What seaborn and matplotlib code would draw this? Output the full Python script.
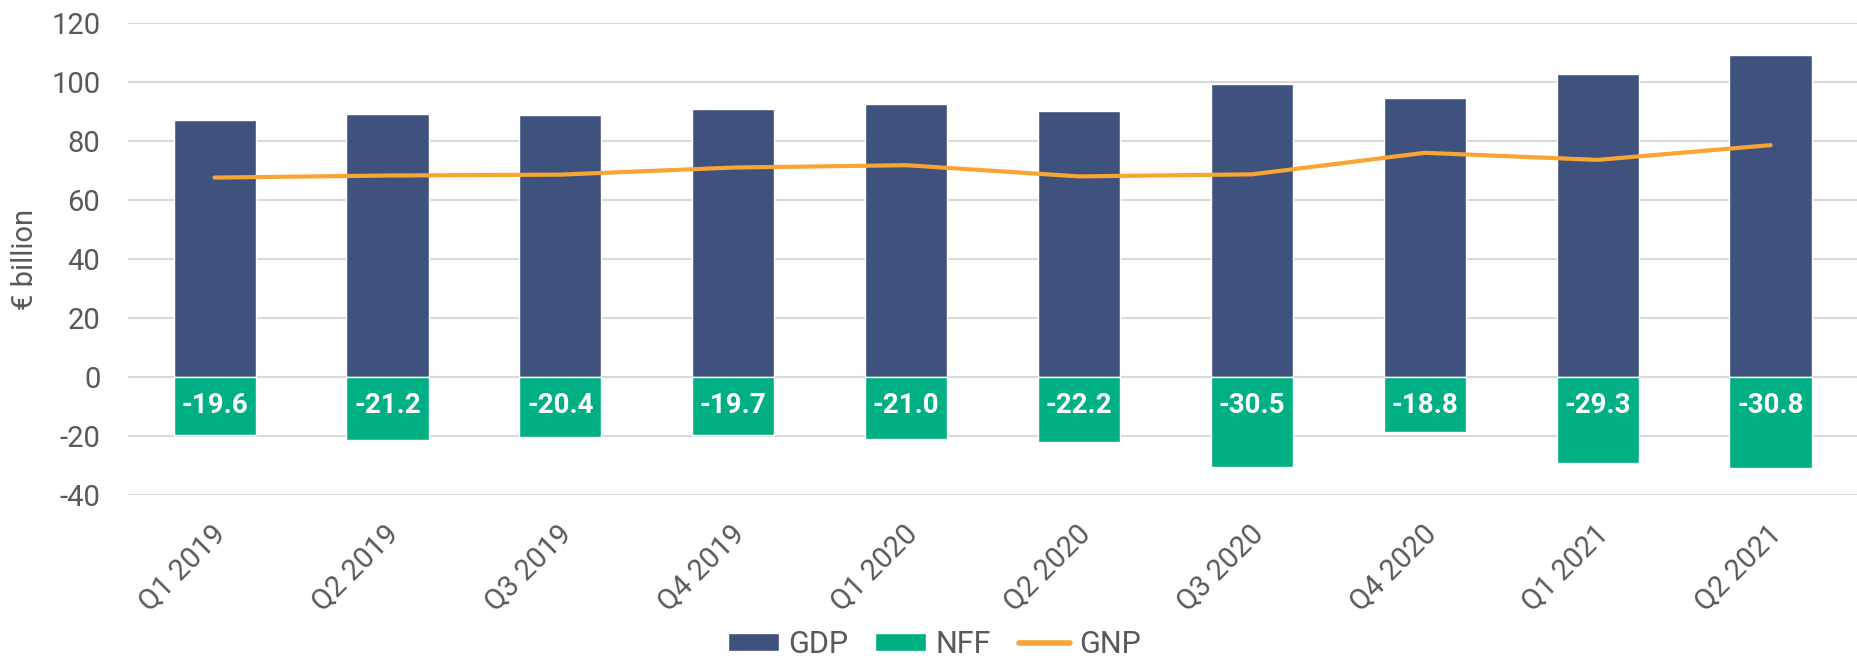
import numpy as np
import pandas as pd
import seaborn as sns
import matplotlib.pyplot as plt
from matplotlib.patches import Patch
from matplotlib.lines import Line2D
from matplotlib.transforms import ScaledTranslation

# data
quarters = ["Q1 2019", "Q2 2019", "Q3 2019", "Q4 2019", "Q1 2020",
            "Q2 2020", "Q3 2020", "Q4 2020", "Q1 2021", "Q2 2021"]
gdp = [87.2, 89.3, 88.7, 90.7, 92.7, 90.3, 99.2, 94.6, 102.7, 109.2]
nff = [-19.6, -21.2, -20.4, -19.7, -21.0, -22.2, -30.5, -18.8, -29.3, -30.8]
gnp = [67.6, 68.3, 68.6, 71.0, 71.8, 68.0, 68.7, 76.0, 73.6, 78.6]

GDP_COL = "#3F527D"
NFF_COL = "#00AF84"
GNP_COL = "#F9A533"
TXT_COL = "#595959"

sns.set_theme(style="white")
plt.rcParams['font.family'] = ['Roboto', 'DejaVu Sans']
plt.rcParams['axes.unicode_minus'] = False

df = pd.DataFrame({"quarter": quarters, "GDP": gdp, "NFF": nff, "GNP": gnp})

fig = plt.figure(figsize=(18.57, 6.71), dpi=100)
ax = fig.add_axes([0.069, 0.2623, 0.931, 0.7034])

sns.barplot(data=df, x="quarter", y="GDP", color=GDP_COL, width=0.475,
            saturation=1, ax=ax, zorder=2)
sns.barplot(data=df, x="quarter", y="NFF", color=NFF_COL, width=0.475,
            saturation=1, ax=ax, zorder=2)
sns.lineplot(x=np.arange(len(quarters)), y=df["GNP"], color=GNP_COL,
             linewidth=3.0, ax=ax, zorder=3, solid_capstyle="round")

# NFF labels near the base of the bars
for i, v in enumerate(nff):
    ax.text(i, -9.6, f"{v:.1f}", ha="center", va="center", color="white",
            fontsize=20, fontweight="bold")

ax.set_xlim(-0.5, len(quarters) - 0.5)
ax.set_ylim(-40, 120)
ax.set_yticks(np.arange(-40, 121, 20))
ax.yaxis.grid(True, color="#D9D9D9", linewidth=1.5)
ax.set_axisbelow(True)
for s in ax.spines.values():
    s.set_visible(False)

ax.tick_params(axis="y", labelsize=21, labelcolor=TXT_COL, pad=20, length=0)
ax.tick_params(axis="x", labelsize=21, labelcolor=TXT_COL, length=0, pad=25)
ax.set_xticks(range(len(quarters)))
ax.set_xticklabels(quarters, rotation=45, ha="right", va="center",
                   rotation_mode="anchor")
shift = ScaledTranslation(0.07, 0, fig.dpi_scale_trans)
for lab in ax.get_xticklabels():
    lab.set_transform(lab.get_transform() + shift)
ax.set_xlabel("")
ax.set_ylabel("€ billion", fontsize=21, color=TXT_COL)
ax.yaxis.set_label_coords(-0.0596, 0.5)
ax.yaxis.label.set_va("center")

handles = [Patch(facecolor=GDP_COL, label="GDP"),
           Patch(facecolor=NFF_COL, label="NFF"),
           Line2D([0], [0], color=GNP_COL, linewidth=4, label="GNP")]
leg = fig.legend(handles=handles, loc="center", bbox_to_anchor=(0.503, 0.04),
                 ncol=3, frameon=False, fontsize=22, handlelength=1.67,
                 handleheight=0.55, columnspacing=0.9, handletextpad=0.3)
for t in leg.get_texts():
    t.set_color(TXT_COL)

fig.savefig("out.png", dpi=100)
